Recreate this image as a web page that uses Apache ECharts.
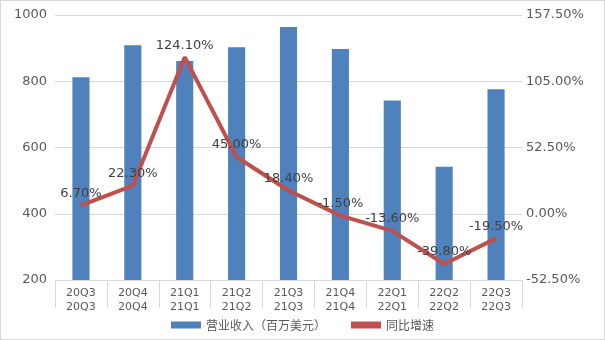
<!DOCTYPE html>
<html><head><meta charset="utf-8">
<script src="https://cdn.jsdelivr.net/npm/echarts@6/dist/echarts.min.js"></script>
<style>html,body{margin:0;padding:0;background:#fff}#c{width:603px;height:338px;border:1px solid #D9D9D9}</style>
</head><body><div id="c"></div>
<script>
const categories = ['20Q3','20Q4','21Q1','21Q2','21Q3','21Q4','22Q1','22Q2','22Q3'];
const revenue = [812, 909, 861, 903, 964, 897, 742, 542, 776];
const growth = [6.7, 22.3, 124.1, 45.0, 18.4, -1.5, -13.6, -39.8, -19.5];
const leftTicks = {min: 200, max: 1000, interval: 200};
const rightTicks = {min: -52.5, max: 157.5, interval: 52.5};

const chart = echarts.init(document.getElementById('c'));
chart.setOption({
  animation: false,
  textStyle: {fontFamily: '"DejaVu Sans","Noto Sans CJK SC",sans-serif'},
  grid: {left: 54, right: 82, top: 14, bottom: 59},
  legend: {
    bottom: 3, left: 'center', itemGap: 25, itemWidth: 30, itemHeight: 7,
    textStyle: {color: '#595959', fontSize: 12, fontFamily: '"Noto Sans CJK SC",sans-serif'},
    data: [{name: '营业收入（百万美元）', icon: 'rect'}, {name: '同比增速', icon: 'rect', itemStyle: {color: '#C0504D'}}]
  },
  xAxis: {
    type: 'category', data: categories,
    axisLine: {onZero: false, lineStyle: {color: '#D9D9D9'}},
    axisTick: {show: true, length: 28, lineStyle: {color: '#D9D9D9'}},
    axisLabel: {color: '#595959', fontSize: 11, lineHeight: 14, margin: 6,
      formatter: v => v + '\n' + v}
  },
  yAxis: [
    {type: 'value', min: leftTicks.min, max: leftTicks.max, interval: leftTicks.interval,
     axisLabel: {color: '#595959', fontSize: 13, margin: 8, formatter: v => String(v)},
     splitLine: {lineStyle: {color: '#D9D9D9'}}, axisLine: {show: false}, axisTick: {show: false}},
    {type: 'value', min: rightTicks.min, max: rightTicks.max, interval: rightTicks.interval,
     axisLabel: {color: '#595959', fontSize: 13, margin: 4, formatter: v => v.toFixed(2) + '%'},
     splitLine: {show: false}, axisLine: {show: false}, axisTick: {show: false}}
  ],
  series: [
    {name: '营业收入（百万美元）', type: 'bar', data: revenue, barWidth: '33%',
     itemStyle: {color: '#4F81BD'}},
    {name: '同比增速', type: 'line', yAxisIndex: 1, data: growth,
     symbol: 'circle', symbolSize: 1, showSymbol: true,
     lineStyle: {color: '#C0504D', width: 4}, itemStyle: {color: '#C0504D'},
     labelLayout: {hideOverlap: false},
     label: {show: true, position: 'top', distance: 5, color: '#404040', fontSize: 13,
       formatter: p => p.value.toFixed(2) + '%'}}
  ]
});
</script></body></html>
